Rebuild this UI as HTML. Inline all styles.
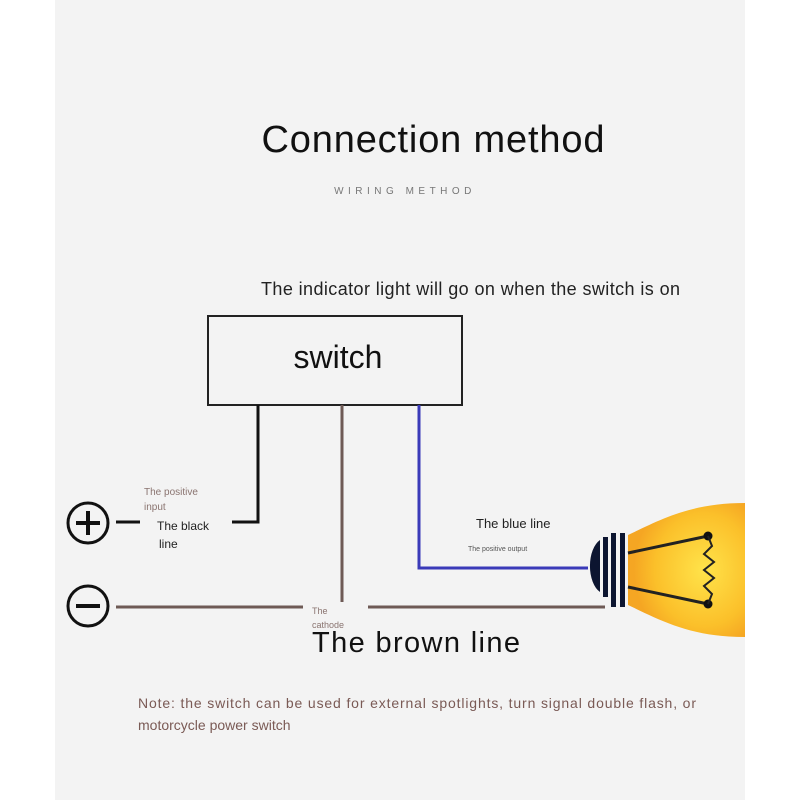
<!DOCTYPE html>
<html><head><meta charset="utf-8"><style>
html,body{margin:0;padding:0;background:#fff;}
svg{display:block;}
text{font-family:"Liberation Sans",sans-serif;}
</style></head><body>
<svg width="800" height="800" viewBox="0 0 800 800" xmlns="http://www.w3.org/2000/svg">
<defs>
<radialGradient id="g" cx="0.65" cy="0.5" r="0.6">
<stop offset="0" stop-color="#ffe34a"/><stop offset="0.7" stop-color="#fbc02a"/><stop offset="1" stop-color="#f5a623"/>
</radialGradient>
</defs>
<rect x="0" y="0" width="800" height="800" fill="#fff"/>
<rect x="55" y="0" width="690" height="800" fill="#f3f3f3"/>
<text x="433" y="152" font-size="38" text-anchor="middle" fill="#111" textLength="343">Connection method</text>
<text x="405" y="194" font-size="10" text-anchor="middle" fill="#777" letter-spacing="4.5">WIRING METHOD</text>
<text x="261" y="295" font-size="18" fill="#222" textLength="419">The indicator light will go on when the switch is on</text>
<rect x="208" y="316" width="254" height="89" fill="none" stroke="#222" stroke-width="2"/>
<text x="338" y="368" font-size="32" text-anchor="middle" fill="#111">switch</text>
<!-- black line -->
<polyline points="258,405 258,522 232,522" fill="none" stroke="#111" stroke-width="3"/>
<line x1="116" y1="522" x2="140" y2="522" stroke="#111" stroke-width="3"/>
<circle cx="88" cy="523" r="20" fill="none" stroke="#111" stroke-width="3"/>
<line x1="76" y1="523" x2="100" y2="523" stroke="#111" stroke-width="4"/>
<line x1="88" y1="511" x2="88" y2="535" stroke="#111" stroke-width="4"/>
<circle cx="88" cy="606" r="20" fill="none" stroke="#111" stroke-width="3"/>
<line x1="76" y1="606" x2="100" y2="606" stroke="#111" stroke-width="4"/>
<!-- brown -->
<line x1="116" y1="607" x2="303" y2="607" stroke="#6e5a55" stroke-width="3"/>
<line x1="368" y1="607" x2="605" y2="607" stroke="#6e5a55" stroke-width="3"/>
<line x1="342" y1="405" x2="342" y2="602" stroke="#6e5a55" stroke-width="3"/>
<!-- blue -->
<polyline points="419,405 419,568 588,568" fill="none" stroke="#3a3ab8" stroke-width="3"/>
<!-- bulb -->
<path d="M628,535 C660,520 690,503 745,503 L745,637 C690,637 660,620 628,605 Z" fill="url(#g)"/>
<path d="M600,540 A16,28 0 0 0 600,592 Z" fill="#0c1530"/>
<rect x="603" y="537" width="5" height="60" fill="#0c1530"/>
<rect x="611" y="533" width="5" height="74" fill="#0c1530"/>
<rect x="620" y="533" width="5" height="74" fill="#0c1530"/>
<line x1="628" y1="553" x2="708" y2="536" stroke="#222" stroke-width="3"/>
<line x1="628" y1="587" x2="708" y2="604" stroke="#222" stroke-width="3"/>
<circle cx="708" cy="536" r="4.5" fill="#111"/><circle cx="708" cy="604" r="4.5" fill="#111"/>
<polyline points="708,536 712,546 704,554 714,562 704,570 714,578 704,586 712,594 708,604" fill="none" stroke="#222" stroke-width="2"/>
<!-- labels -->
<text x="144" y="495" font-size="10" fill="#8a7470">The positive</text>
<text x="144" y="510" font-size="10" fill="#8a7470">input</text>
<text x="157" y="530" font-size="12" fill="#222">The black</text>
<text x="159" y="548" font-size="12" fill="#222">line</text>
<text x="476" y="528" font-size="13" fill="#222">The blue line</text>
<text x="468" y="551" font-size="7" fill="#555">The positive output</text>
<text x="312" y="614" font-size="9" fill="#8a7470">The</text>
<text x="312" y="628" font-size="9" fill="#8a7470">cathode</text>
<text x="312" y="652" font-size="29" fill="#111" textLength="208">The brown line</text>
<text x="138" y="708" font-size="14" fill="#7a5a55" textLength="558">Note: the switch can be used for external spotlights, turn signal double flash, or</text>
<text x="138" y="730" font-size="14" fill="#7a5a55">motorcycle power switch</text>
</svg>
</body></html>
